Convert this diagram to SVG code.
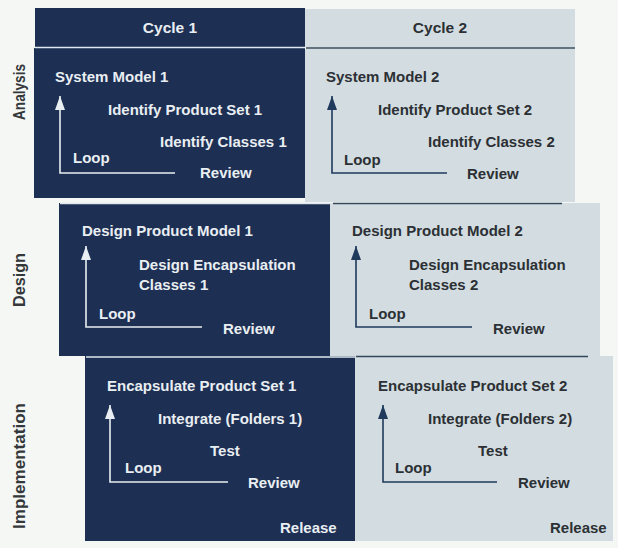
<svg xmlns="http://www.w3.org/2000/svg" width="618" height="548" viewBox="0 0 618 548">
<style>
.dark{fill:#1d2f52}
.light{fill:#d3dde1}
.t{font-family:"Liberation Sans",Arial,sans-serif;font-weight:bold;font-size:15px}
.tl{fill:#e9eef2}
.td{fill:#2c3034}
.hd{font-size:15.5px}
.lab{font-family:"Liberation Sans",Arial,sans-serif;font-weight:bold;font-size:16px;fill:#34383a;text-anchor:middle}
.rl{stroke:#dfe8ee;stroke-width:1.5}
.rd{stroke:#33475a;stroke-width:1.5}
.cw{fill:none;stroke:#e9eef2;stroke-width:1.6}
.cd{fill:none;stroke:#1f3a5c;stroke-width:1.6}
</style>
<defs>
<marker id="aw" markerUnits="userSpaceOnUse" markerWidth="15" markerHeight="11" refX="14" refY="5.5" orient="auto"><path d="M0,0.5 L14,5.5 L0,10.5 z" fill="#e9eef2"/></marker>
<marker id="ad" markerUnits="userSpaceOnUse" markerWidth="15" markerHeight="11" refX="14" refY="5.5" orient="auto"><path d="M0,0.5 L14,5.5 L0,10.5 z" fill="#1f3a5c"/></marker>
</defs>
<rect width="618" height="548" fill="#f5f7f4"/>

<g id="header-cycle1">
<rect class="dark" x="35" y="8" width="270" height="39"/>
<text class="t tl hd" x="170" y="33" text-anchor="middle">Cycle 1</text>
</g>
<g id="header-cycle2">
<rect class="light" x="305" y="9" width="270" height="38"/>
<line class="rd" x1="306" y1="48" x2="575" y2="48"/>
<text class="t td hd" x="440" y="33" text-anchor="middle" fill="#3a474d">Cycle 2</text>
</g>

<g id="label-analysis"><text class="lab" transform="translate(25,92) rotate(-90)" textLength="56" lengthAdjust="spacingAndGlyphs">Analysis</text></g>
<g id="label-design"><text class="lab" transform="translate(25,280) rotate(-90)" textLength="54" lengthAdjust="spacingAndGlyphs">Design</text></g>
<g id="label-implementation"><text class="lab" transform="translate(25,466) rotate(-90)" textLength="126" lengthAdjust="spacingAndGlyphs">Implementation</text></g>

<g id="analysis-cycle1">
<rect class="dark" x="34" y="48" width="271" height="150"/>
<line class="rl" x1="35" y1="47.5" x2="305" y2="47.5"/>
<text class="t tl" x="55" y="82">System Model 1</text>
<text class="t tl" x="108" y="115">Identify Product Set 1</text>
<text class="t tl" x="160" y="147">Identify Classes 1</text>
<text class="t tl" x="73" y="163">Loop</text>
<text class="t tl" x="200" y="178">Review</text>
</g>
<g id="analysis-cycle2">
<rect class="light" x="305" y="49" width="270" height="153"/>
<text class="t td" x="326" y="82">System Model 2</text>
<text class="t td" x="378" y="115">Identify Product Set 2</text>
<text class="t td" x="428" y="147">Identify Classes 2</text>
<text class="t td" x="344" y="165">Loop</text>
<text class="t td" x="467" y="179">Review</text>
</g>

<g id="design-cycle1">
<rect class="dark" x="59" y="203" width="271" height="153"/>
<line class="rl" x1="60" y1="203.5" x2="330" y2="203.5"/>
<text class="t tl" x="82" y="236">Design Product Model 1</text>
<text class="t tl" x="139" y="270">Design Encapsulation</text>
<text class="t tl" x="139" y="290">Classes 1</text>
<text class="t tl" x="99" y="319">Loop</text>
<text class="t tl" x="223" y="334">Review</text>
</g>
<g id="design-cycle2">
<rect class="light" x="330" y="203" width="270" height="153"/>
<line class="rd" x1="333" y1="203.5" x2="562" y2="203.5"/>
<text class="t td" x="352" y="236">Design Product Model 2</text>
<text class="t td" x="409" y="270">Design Encapsulation</text>
<text class="t td" x="409" y="290">Classes 2</text>
<text class="t td" x="369" y="319">Loop</text>
<text class="t td" x="493" y="334">Review</text>
</g>

<g id="implementation-cycle1">
<rect class="dark" x="85" y="356" width="270" height="185"/>
<line class="rl" x1="86" y1="357" x2="355" y2="357"/>
<text class="t tl" x="107" y="391">Encapsulate Product Set 1</text>
<text class="t tl" x="158" y="424">Integrate (Folders 1)</text>
<text class="t tl" x="210" y="456">Test</text>
<text class="t tl" x="125" y="473">Loop</text>
<text class="t tl" x="248" y="488">Review</text>
<text class="t tl" x="280" y="533">Release</text>
</g>
<g id="implementation-cycle2">
<rect class="light" x="355" y="356" width="258" height="185"/>
<line class="rd" x1="356" y1="356.5" x2="588" y2="356.5"/>
<text class="t td" x="378" y="391">Encapsulate Product Set 2</text>
<text class="t td" x="428" y="424">Integrate (Folders 2)</text>
<text class="t td" x="478" y="456">Test</text>
<text class="t td" x="395" y="473">Loop</text>
<text class="t td" x="518" y="488">Review</text>
<text class="t td" x="550" y="533">Release</text>
</g>

<g id="connectors">
<path class="cw" d="M175,173 H60 V96" marker-end="url(#aw)"/>
<path class="cd" d="M447,173 H332 V96" marker-end="url(#ad)"/>
<path class="cw" d="M202,327 H86 V246" marker-end="url(#aw)"/>
<path class="cd" d="M472,327 H356 V246" marker-end="url(#ad)"/>
<path class="cw" d="M228,482 H110 V405" marker-end="url(#aw)"/>
<path class="cd" d="M497,482 H383 V405" marker-end="url(#ad)"/>
</g>
</svg>
